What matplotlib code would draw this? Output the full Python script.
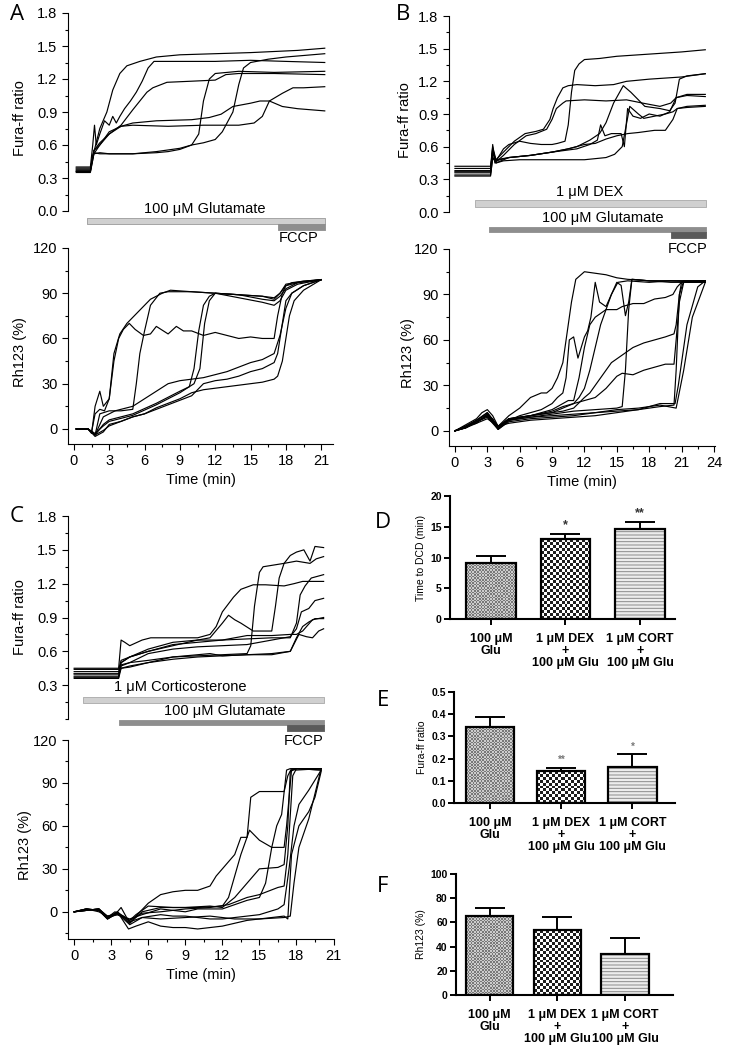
import numpy as np
import matplotlib
matplotlib.use('Agg')
import matplotlib.pyplot as plt
from matplotlib.colors import ListedColormap
from matplotlib.ticker import MultipleLocator

plt.rcParams['font.family'] = ['Liberation Sans', 'DejaVu Sans']
plt.rcParams['hatch.linewidth'] = 0.7

# ---------------- data: panel A (100 uM glutamate) ----------------
a_fura = [
    ([0.2, 1.4, 1.6, 1.8, 2.2, 2.8, 3.3, 3.9, 4.5, 5.6, 7, 9, 12, 15, 17, 19, 21.3],
     [0.36, 0.36, 0.5, 0.58, 0.75, 0.9, 1.1, 1.25, 1.32, 1.36, 1.40, 1.42, 1.43, 1.44, 1.45, 1.46, 1.48]),
    ([0.2, 1.4, 1.6, 1.75, 1.9, 2.2, 2.6, 3.0, 3.3, 3.6, 3.9, 4.3, 4.8, 5.3, 5.8, 6.3, 6.8, 9, 12, 15, 18, 21.3],
     [0.40, 0.40, 0.6, 0.78, 0.6, 0.7, 0.82, 0.78, 0.86, 0.80, 0.86, 0.93, 1.0, 1.08, 1.18, 1.3, 1.36, 1.36, 1.36, 1.37, 1.36, 1.35]),
    ([0.2, 1.4, 1.7, 2.2, 3, 4, 5, 5.6, 6.2, 6.7, 7.9, 10, 12, 12.9, 14, 17, 21.3],
     [0.38, 0.38, 0.55, 0.62, 0.7, 0.78, 0.92, 1.0, 1.08, 1.12, 1.17, 1.18, 1.19, 1.24, 1.25, 1.25, 1.24]),
    ([0.2, 1.4, 1.7, 2.2, 3, 4, 5, 7, 10, 11.5, 12.5, 13.5, 15, 15.8, 16.6, 17.7, 19, 21.3],
     [0.35, 0.35, 0.52, 0.6, 0.7, 0.77, 0.8, 0.82, 0.83, 0.85, 0.88, 0.95, 0.98, 1.0, 1.0, 0.95, 0.93, 0.91]),
    ([0.2, 1.4, 1.7, 2.2, 3, 4, 5, 8, 11, 14, 15.3, 16, 16.6, 17.7, 18.6, 19.5, 21.3],
     [0.37, 0.37, 0.55, 0.6, 0.72, 0.77, 0.78, 0.77, 0.78, 0.78, 0.8, 0.86, 1.0, 1.07, 1.12, 1.12, 1.13]),
    ([0.2, 1.4, 1.7, 2.2, 3, 5, 7, 8, 9, 10, 10.6, 11.0, 11.5, 12, 14, 17, 21.3],
     [0.36, 0.36, 0.52, 0.53, 0.52, 0.52, 0.53, 0.54, 0.56, 0.6, 0.7, 1.0, 1.2, 1.25, 1.27, 1.26, 1.27]),
    ([0.2, 1.4, 1.7, 2.2, 3, 5, 7, 9, 10, 11, 12, 12.6, 13, 13.5, 14.0, 14.4, 15, 16.5, 18, 21.3],
     [0.39, 0.39, 0.53, 0.52, 0.52, 0.52, 0.54, 0.57, 0.6, 0.62, 0.65, 0.72, 0.8, 0.9, 1.15, 1.3, 1.35, 1.38, 1.40, 1.43]),
]
a_rh = [
    ([0.2, 1.2, 1.5, 1.8, 2.2, 2.6, 3.0, 3.4, 3.8, 4.2, 4.7, 5.2, 5.9, 6.5, 7.0, 8, 8.7, 9.3, 10, 11, 12, 13, 14, 15, 16, 17.0, 17.3, 17.7, 18, 18.5, 19.5, 21],
     [0, 0, -2, 10, 13, 12, 20, 45, 60, 66, 70, 66, 62, 63, 68, 63, 68, 65, 65, 62, 64, 62, 60, 61, 60, 60, 75, 90, 95, 97, 98, 99]),
    ([0.2, 1.2, 1.5, 1.8, 2.2, 2.5, 3.0, 3.4, 3.9, 4.5, 5.5, 6.5, 7.5, 8.2, 10, 12, 14, 16, 17, 17.5, 18, 19, 21],
     [0, 0, -3, 15, 25, 15, 20, 50, 63, 70, 78, 86, 90, 92, 91, 90, 89, 88, 87, 90, 95, 97, 99]),
    ([0.2, 1.2, 1.8, 2.2, 3, 4, 5.0, 5.3, 5.6, 6.0, 6.5, 7.3, 8, 10, 12, 14, 16, 17, 17.5, 18, 19.5, 21],
     [0, 0, -4, 10, 12, 12, 13, 30, 50, 65, 82, 90, 91, 91, 90, 89, 88, 86, 90, 96, 98, 99]),
    ([0.2, 1.2, 1.8, 2.5, 3, 5, 7, 9, 9.8, 10.2, 10.6, 11.0, 11.5, 12, 14, 16, 17, 17.5, 18, 19, 21],
     [0, 0, -4, 3, 6, 10, 17, 25, 28, 40, 65, 82, 88, 90, 87, 84, 82, 85, 92, 96, 99]),
    ([0.2, 1.2, 1.8, 2.5, 3, 5, 7, 9, 10.2, 10.7, 11.1, 11.5, 12, 14, 16, 17, 17.5, 18, 19, 21],
     [0, 0, -3, 2, 5, 9, 16, 24, 30, 40, 70, 85, 90, 89, 86, 85, 88, 93, 97, 99]),
    ([0.2, 1.2, 1.8, 2.5, 3.5, 5, 6, 7, 8, 9, 10, 11, 12, 13, 14, 15, 16, 17, 17.5, 18, 18.5, 19.5, 21],
     [0, 0, -4, 8, 12, 15, 20, 25, 30, 32, 33, 34, 36, 38, 41, 44, 46, 50, 62, 80, 90, 95, 99]),
    ([0.2, 1.2, 1.8, 2.5, 3, 4, 5, 6, 7, 8, 9, 10, 11, 12, 13, 15, 16, 17, 17.3, 17.7, 18, 18.3, 18.7, 19.5, 21],
     [0, 0, -5, -2, 3, 5, 8, 10, 14, 17, 20, 24, 26, 27, 28, 30, 31, 33, 35, 45, 60, 75, 85, 92, 99]),
    ([0.2, 1.2, 1.8, 2.5, 3, 4, 5, 6, 8, 10, 11, 12, 13, 14, 15, 16, 17, 17.3, 17.7, 18, 18.5, 19.5, 21],
     [0, 0, -4, -1, 2, 5, 8, 10, 16, 22, 30, 32, 33, 35, 38, 40, 44, 50, 70, 85, 90, 95, 99]),
]
a_drugs = [('100 μM Glutamate', 1.1, 21.3), ('FCCP', 17.3, 21.3)]

# ---------------- data: panel B (DEX + glutamate) ----------------
b_fura = [
    ([0, 3.3, 3.5, 3.7, 4, 4.5, 5, 6, 7, 8, 9, 9.5, 10.2, 10.5, 10.8, 11.1, 11.5, 12, 13.4, 15, 18, 21, 23.2],
     [0.37, 0.37, 0.62, 0.45, 0.5, 0.58, 0.62, 0.65, 0.63, 0.62, 0.62, 0.63, 0.65, 0.8, 1.1, 1.3, 1.36, 1.40, 1.41, 1.43, 1.45, 1.47, 1.49]),
    ([0, 3.3, 3.5, 3.8, 4.5, 5.5, 6.5, 7.5, 8.2, 8.8, 9.1, 9.5, 10, 10.5, 11.3, 13, 14.7, 15.9, 18, 21, 23.2],
     [0.40, 0.40, 0.55, 0.48, 0.55, 0.65, 0.72, 0.74, 0.76, 0.85, 0.95, 1.05, 1.14, 1.16, 1.17, 1.16, 1.17, 1.20, 1.22, 1.24, 1.27]),
    ([0, 3.3, 3.5, 3.8, 4.5, 5.5, 6.6, 7.5, 8.5, 9.0, 9.4, 10.0, 10.3, 12, 14, 15.9, 17.4, 19, 20, 20.5, 21.5, 23.2],
     [0.34, 0.34, 0.5, 0.46, 0.52, 0.62, 0.7, 0.72, 0.76, 0.85, 0.95, 1.0, 1.02, 1.03, 1.02, 1.03, 1.0, 0.97, 1.0, 1.05, 1.07, 1.06]),
    ([0, 3.3, 3.5, 3.8, 5, 7, 9, 10.5, 11.3, 12.5, 13.4, 14, 14.7, 15.6, 16.3, 17.6, 19, 19.9, 20.4, 20.8, 21.5, 23.2],
     [0.36, 0.36, 0.55, 0.45, 0.5, 0.52, 0.55, 0.58, 0.6, 0.66, 0.72, 0.82, 1.0, 1.16, 1.1, 0.97, 0.95, 0.93, 1.0, 1.22, 1.25, 1.27]),
    ([0, 3.3, 3.5, 3.8, 5, 7, 9, 11.3, 12.5, 13.2, 13.5, 13.9, 14.5, 15.4, 15.7, 16.0, 16.5, 17.2, 18, 19, 19.9, 20.5, 21.5, 23.2],
     [0.38, 0.38, 0.58, 0.47, 0.5, 0.52, 0.55, 0.58, 0.62, 0.66, 0.8, 0.7, 0.72, 0.72, 0.6, 0.95, 0.88, 0.86, 0.9, 0.88, 0.92, 1.05, 1.08, 1.08]),
    ([0, 3.3, 3.5, 3.8, 4.5, 6, 9, 12, 14, 14.8, 15.5, 16.2, 17, 17.5, 18.5, 19.5, 20.2, 20.6, 21.5, 23.2],
     [0.33, 0.33, 0.5, 0.45, 0.47, 0.48, 0.48, 0.48, 0.5, 0.53, 0.6, 0.97, 0.9, 0.86, 0.88, 0.9, 0.92, 0.95, 0.96, 0.97]),
    ([0, 3.3, 3.5, 3.8, 5, 7, 9, 10.5, 12, 13, 14, 15, 16, 17, 18.5, 19.5, 20.2, 20.6, 21.5, 23.2],
     [0.42, 0.42, 0.6, 0.48, 0.5, 0.52, 0.55, 0.58, 0.62, 0.63, 0.67, 0.7, 0.72, 0.73, 0.75, 0.75, 0.85, 0.95, 0.97, 0.98]),
]
b_rh = [
    ([0, 1, 2, 2.5, 3, 3.5, 4, 5, 6, 7, 8, 8.5, 9, 9.5, 10, 10.4, 10.8, 11.2, 12, 13, 14, 15, 16, 18, 20, 23.2],
     [0, 4, 8, 12, 14, 10, 3, 10, 15, 22, 25, 25, 28, 35, 45, 65, 85, 100, 105, 104, 103, 101, 100, 99, 99, 99]),
    ([0, 1, 2, 3, 3.5, 4, 5, 6, 7, 8, 9, 9.5, 10, 10.3, 10.6, 11.0, 11.4, 12, 12.3, 12.6, 13.0, 13.4, 14, 14.5, 15.1, 16, 18, 20, 23.2],
     [0, 3, 6, 10, 8, 1, 7, 10, 12, 14, 18, 22, 25, 35, 60, 62, 48, 62, 66, 75, 98, 85, 82, 90, 98, 99, 98, 99, 99]),
    ([0, 1, 2, 3, 4, 5, 7, 9, 10, 11, 11.5, 12, 12.5, 13, 13.5, 14, 14.5, 15.0, 15.4, 15.8, 16.1, 16.4, 18, 20, 23.2],
     [0, 3, 7, 12, 3, 8, 10, 12, 15, 18, 22, 28, 40, 55, 70, 80, 90, 98, 96, 76, 85, 100, 99, 99, 98]),
    ([0, 1, 2, 3, 4, 5, 7, 9, 11, 13, 15, 15.5, 15.8, 16.1, 16.4, 18, 20, 23.2],
     [0, 2, 6, 10, 2, 7, 9, 11, 13, 14, 15, 16, 40, 80, 100, 99, 98, 98]),
    ([0, 1, 2, 3, 4, 5, 7, 9, 10, 10.5, 11, 11.5, 12, 12.5, 13, 14, 15, 15.5, 16.5, 17.5, 18.5, 19.5, 20.2, 20.6, 21, 23.2],
     [0, 3, 7, 11, 2, 8, 10, 14, 18, 20, 20, 35, 55, 70, 75, 80, 80, 82, 84, 84, 87, 88, 90, 95, 98, 99]),
    ([0, 1, 2, 3, 4, 5, 7, 9, 10, 11, 12, 12.5, 13.5, 14.5, 15.5, 16.5, 17.5, 18.5, 19.5, 20.3, 20.5, 20.8, 21, 23.2],
     [0, 2, 6, 10, 1, 7, 10, 12, 13, 15, 22, 25, 35, 45, 50, 55, 58, 60, 62, 64, 70, 90, 98, 99]),
    ([0, 1, 2, 3, 4, 5, 7, 9, 10, 11, 12, 13, 14, 15, 15.5, 16.5, 17.5, 18.5, 19.5, 20.3, 20.5, 20.8, 21.2, 23.2],
     [0, 3, 7, 12, 3, 8, 10, 13, 16, 18, 20, 22, 28, 36, 38, 37, 40, 42, 44, 44, 60, 85, 98, 98]),
    ([0, 1, 2, 3, 4, 5, 7, 9, 11, 13, 15, 17, 19, 20.3, 20.5, 20.8, 21.2, 23.2],
     [0, 2, 6, 9, 1, 6, 8, 9, 10, 12, 13, 14, 16, 17, 40, 90, 99, 99]),
    ([0, 1, 2, 3, 4, 5, 7, 9, 11, 13, 15, 17, 19, 20.5, 21.2, 22, 23.2],
     [0, 3, 5, 11, 2, 7, 9, 10, 11, 12, 14, 15, 17, 15, 40, 75, 98]),
    ([0, 1, 2, 3, 4, 5, 7, 9, 11, 13, 15, 17, 19, 20.4, 20.7, 21.5, 22.5, 23.2],
     [0, 2, 5, 8, 3, 5, 7, 8, 9, 10, 12, 14, 18, 18, 30, 70, 95, 99]),
]
b_drugs = [('1 μM DEX', 1.9, 23.3), ('100 μM Glutamate', 3.2, 23.3), ('FCCP', 20.0, 23.3)]

# ---------------- data: panel C (corticosterone + glutamate) ----------------
c_fura = [
    ([0, 3.6, 3.8, 4.1, 4.5, 5.5, 6.2, 8, 10, 11, 11.5, 12, 12.9, 13.5, 14.5, 15.5, 17, 17.8, 18.5, 19.5, 20.2],
     [0.45, 0.45, 0.7, 0.68, 0.65, 0.7, 0.72, 0.72, 0.72, 0.75, 0.82, 0.95, 1.08, 1.15, 1.19, 1.19, 1.18, 1.2, 1.22, 1.22, 1.22]),
    ([0, 3.6, 3.8, 4.5, 6, 8, 10, 11, 12, 12.5, 13, 13.5, 14.5, 16, 16.3, 16.6, 17, 17.5, 18, 18.6, 19.1, 19.5, 20.2],
     [0.4, 0.4, 0.5, 0.55, 0.6, 0.65, 0.7, 0.72, 0.85, 0.92, 0.88, 0.85, 0.78, 0.78, 1.0, 1.25, 1.38, 1.45, 1.48, 1.5, 1.4, 1.53, 1.52]),
    ([0, 3.6, 3.8, 4.5, 6, 8, 10, 12, 14, 14.3, 14.6, 15.0, 15.3, 17, 18, 19.1, 19.6, 20.2],
     [0.38, 0.38, 0.47, 0.5, 0.52, 0.55, 0.56, 0.57, 0.58, 0.65, 1.0, 1.3, 1.35, 1.38, 1.4, 1.38, 1.42, 1.44]),
    ([0, 3.6, 3.8, 4.5, 6, 8, 10, 12, 14, 16, 17.5, 18, 18.3, 18.7, 19.2, 20.2],
     [0.42, 0.42, 0.5, 0.55, 0.62, 0.68, 0.7, 0.7, 0.71, 0.72, 0.72, 0.85, 1.1, 1.18, 1.25, 1.28]),
    ([0, 3.6, 3.8, 4.5, 6, 8, 10, 12, 14, 16, 17.5, 18, 18.4, 19.0, 19.5, 20.2],
     [0.37, 0.37, 0.48, 0.5, 0.58, 0.62, 0.64, 0.65, 0.66, 0.7, 0.73, 0.8, 0.95, 0.98, 1.05, 1.07]),
    ([0, 3.6, 3.8, 4.5, 6, 8, 10, 12, 14, 16, 17.5, 18, 18.5, 19, 19.5, 20.2],
     [0.36, 0.36, 0.45, 0.46, 0.5, 0.53, 0.55, 0.56, 0.57, 0.58, 0.6, 0.72, 0.82, 0.86, 0.89, 0.89]),
    ([0, 3.6, 3.8, 4.5, 6, 8, 10, 11, 12, 14, 16, 17.5, 18.2, 18.8, 19.3, 19.8, 20.2],
     [0.4, 0.4, 0.45, 0.47, 0.5, 0.55, 0.57, 0.58, 0.56, 0.57, 0.57, 0.6, 0.75, 0.73, 0.72, 0.78, 0.8]),
    ([0, 3.6, 3.8, 4.5, 6, 8, 10, 12, 14, 16, 17.5, 18, 18.5, 19.3, 20.2],
     [0.44, 0.44, 0.52, 0.55, 0.6, 0.66, 0.68, 0.7, 0.74, 0.74, 0.75, 0.75, 0.78, 0.88, 0.9]),
]
c_rh = [
    ([0, 1, 2, 2.7, 3.3, 3.8, 4.5, 5, 6, 7, 8, 9, 10, 11, 11.5, 12, 13, 13.5, 14, 14.3, 15, 17, 17.3, 17.6, 18, 20],
     [0, 2, 1, -5, -2, 3, -8, -3, 6, 12, 14, 15, 15, 18, 25, 30, 40, 52, 52, 80, 84, 84, 95, 100, 100, 99]),
    ([0, 1, 2, 2.7, 3.3, 4, 4.5, 5, 6, 8, 10, 12, 12.5, 13, 13.5, 14.2, 15, 16, 17, 17.2, 17.6, 18, 20],
     [0, 1, 2, -4, 0, -3, -6, -2, 4, 3, 3, 4, 10, 25, 40, 57, 50, 45, 45, 60, 99, 100, 99]),
    ([0, 1, 2, 2.7, 3.5, 4.5, 5.5, 7, 9, 11, 12, 13, 14, 15, 16.5, 17, 17.3, 17.5, 18, 20],
     [0, 2, 1, -5, -1, -8, 0, 3, 3, 4, 3, 10, 20, 30, 31, 33, 60, 98, 100, 100]),
    ([0, 1, 2, 2.7, 3.5, 4.5, 5.5, 7, 9, 11, 12.5, 14, 15, 16.5, 17, 17.3, 17.7, 18, 20],
     [0, 1, 2, -4, -2, -6, -1, 0, 2, 3, 5, 10, 12, 17, 18, 40, 95, 100, 100]),
    ([0, 1, 2, 2.7, 3.5, 4.5, 5.5, 7, 9, 10, 12, 13, 14, 15, 15.5, 16, 16.4, 16.8, 17.2, 17.5, 18, 20],
     [0, 2, 0, -3, -2, -5, -2, 2, 0, 2, 2, 5, 8, 10, 20, 45, 60, 68, 99, 100, 99, 100]),
    ([0, 1, 2, 2.7, 3.5, 4.5, 5.5, 7, 8, 9, 10, 11, 12, 13, 14, 15, 16.5, 17, 17.4, 17.8, 18.2, 19, 20],
     [0, 1, 2, -4, 0, -7, -4, -2, -3, -3, -4, -5, -5, -4, -3, -2, 2, 5, 30, 60, 75, 85, 99]),
    ([0, 1, 2, 2.7, 3.5, 4.4, 5, 6, 7, 8, 9, 10, 11, 12, 13, 14, 15, 16, 17, 17.3, 17.6, 18.2, 19, 19.5, 20],
     [0, 2, 1, -5, 0, -12, -10, -7, -10, -11, -11, -12, -11, -10, -8, -6, -5, -4, -3, -5, 40, 60, 70, 80, 98]),
    ([0, 1, 2, 2.7, 3.5, 4.5, 5.5, 7, 9, 11, 13, 15, 17, 17.5, 17.8, 18.2, 19, 20],
     [0, 1, 2, -3, -1, -9, -4, -5, -4, -3, -5, -5, -4, -3, 20, 45, 65, 100]),
]
c_drugs = [('1 μM Corticosterone', 0.7, 20.2), ('100 μM Glutamate', 3.6, 20.2), ('FCCP', 17.2, 20.2)]

# ---------------- data: bar charts D, E, F ----------------
groups = ['100 μM\nGlu', '1 μM DEX\n+\n100 μM Glu', '1 μM CORT\n+\n100 μM Glu']
dcd_mean = [9.05, 12.95, 14.6]
dcd_sem = [1.2, 0.85, 1.1]
dcd_stars = ['', '*', '**']
fura_mean = [0.341, 0.144, 0.164]
fura_sem = [0.048, 0.015, 0.055]
fura_stars = ['', '**', '*']
rh_mean = [65.5, 53.7, 33.5]
rh_sem = [6.6, 10.5, 14.0]

W, H = 729, 1049
fig = plt.figure(figsize=(W / 100, H / 100), dpi=100)


def axes_px(l, t, r, b):
    ax = fig.add_axes([l / W, 1 - b / H, (r - l) / W, (b - t) / H])
    ax.set_facecolor('none')
    return ax


def trace_axes(ax, xlim, ylim, ystep, yticks, with_x):
    ax.set_xlim(*xlim)
    ax.set_ylim(*ylim)
    ax.spines[['top', 'right']].set_visible(False)
    ax.set_yticks(yticks)
    ax.yaxis.set_minor_locator(MultipleLocator(ystep / 2))
    ax.tick_params(axis='both', which='major', direction='out', length=4, width=0.8, labelsize=10.5)
    ax.tick_params(axis='both', which='minor', direction='out', length=2, width=0.8)
    if with_x:
        ax.set_xticks(np.arange(0, xlim[1] + 0.1, 3))
        ax.xaxis.set_minor_locator(MultipleLocator(1.5))
        ax.set_xlabel('Time (min)', fontsize=10.5, labelpad=3)
    else:
        ax.spines['bottom'].set_visible(False)
        ax.set_xticks([])
        ax.xaxis.set_minor_locator(plt.NullLocator())


def draw_traces(ax, traces):
    for t, v in traces:
        ax.plot(t, v, color='black', lw=0.85)


def drug_bar(ax, start, stop, y0, h, fc, ec):
    ax.broken_barh([(start, stop - start)], (y0, h), facecolors=fc, edgecolors=ec,
                   linewidth=0.6, clip_on=False)


LIGHT, MID, DARK = '#d0d0d0', '#8e8e8e', '#5a5a5a'
FURA_LABELS = ['0.0', '0.3', '0.6', '0.9', '1.2', '1.5', '1.8']

# ---------- A ----------
ax = axes_px(68, 13, 333, 211)
draw_traces(ax, a_fura)
trace_axes(ax, (-0.5, 22), (0, 1.8), 0.3, np.arange(0, 1.81, 0.3), False)
ax.set_yticklabels(FURA_LABELS)
ax.set_ylabel('Fura-ff ratio', fontsize=10.5)
ax.yaxis.set_label_coords(-0.155, 0.47)
(gl, g0, g1), (fl, f0, f1) = a_drugs
drug_bar(ax, g0, g1, -0.118, 0.054, LIGHT, '#9a9a9a')
drug_bar(ax, f0, f1, -0.173, 0.055, MID, MID)
ax.text(11.1, 0.02, gl, ha='center', va='center', fontsize=10.5)
ax.text(19.1, -0.245, fl, ha='center', va='center', fontsize=10.5)

ax = axes_px(68, 248, 333, 444)
draw_traces(ax, a_rh)
trace_axes(ax, (-0.5, 22), (-10, 120), 30, np.arange(0, 121, 30), True)
ax.set_ylabel('Rh123 (%)', fontsize=10.5)
ax.yaxis.set_label_coords(-0.155, 0.47)

# ---------- B ----------
ax = axes_px(449, 16, 715, 212)
draw_traces(ax, b_fura)
trace_axes(ax, (-0.55, 24.1), (0, 1.8), 0.3, np.arange(0, 1.81, 0.3), False)
ax.set_yticklabels(FURA_LABELS)
ax.set_ylabel('Fura-ff ratio', fontsize=10.5)
ax.yaxis.set_label_coords(-0.139, 0.47)
(dl, d0, d1), (gl, g0, g1), (fl, f0, f1) = b_drugs
drug_bar(ax, d0, d1, 0.046, 0.064, LIGHT, '#a8a8a8')
drug_bar(ax, g0, g1, -0.184, 0.046, MID, MID)
drug_bar(ax, f0, f1, -0.239, 0.055, DARK, DARK)
ax.text(12.5, 0.18, dl, ha='center', va='center', fontsize=10.5)
ax.text(13.7, -0.055, gl, ha='center', va='center', fontsize=10.5)
ax.text(21.6, -0.34, fl, ha='center', va='center', fontsize=10.5)

ax = axes_px(449, 249, 715, 446)
draw_traces(ax, b_rh)
trace_axes(ax, (-0.55, 24.1), (-10, 120), 30, np.arange(0, 121, 30), True)
ax.set_ylabel('Rh123 (%)', fontsize=10.5)
ax.yaxis.set_label_coords(-0.128, 0.47)

# ---------- C ----------
ax = axes_px(68, 516, 333.5, 719)
draw_traces(ax, c_fura)
trace_axes(ax, (-0.5, 21), (0, 1.8), 0.3, np.arange(0.3, 1.81, 0.3), False)
ax.set_ylabel('Fura-ff ratio', fontsize=10.5)
ax.yaxis.set_label_coords(-0.155, 0.5)
(cl, c0, c1), (gl, g0, g1), (fl, f0, f1) = c_drugs
drug_bar(ax, c0, c1, 0.142, 0.053, LIGHT, '#a8a8a8')
drug_bar(ax, g0, g1, -0.053, 0.044, MID, MID)
drug_bar(ax, f0, f1, -0.106, 0.053, DARK, DARK)
ax.text(8.6, 0.284, cl, ha='center', va='center', fontsize=10.5)
ax.text(12.2, 0.07, gl, ha='center', va='center', fontsize=10.5)
ax.text(18.6, -0.195, fl, ha='center', va='center', fontsize=10.5)

ax = axes_px(68, 740, 333.5, 939)
draw_traces(ax, c_rh)
trace_axes(ax, (-0.5, 21), (-19, 120), 30, np.arange(0, 121, 30), True)
ax.set_ylabel('Rh123 (%)', fontsize=10.5)
ax.yaxis.set_label_coords(-0.136, 0.47)


# ---------- bar charts ----------
def checker_fill(ax, bar, cell_px, colors):
    # checkerboard texture clipped to the bar
    bb = bar.get_window_extent()
    nx = max(1, int(round(bb.width / cell_px)))
    ny = max(1, int(round(bb.height / cell_px)))
    grid = np.indices((ny, nx)).sum(axis=0) % 2
    x0, y0 = bar.get_x(), bar.get_y()
    im = ax.imshow(grid, cmap=ListedColormap(colors), interpolation='nearest', aspect='auto',
                   extent=(x0, x0 + bar.get_width(), y0, y0 + bar.get_height()), zorder=2)
    im.set_clip_path(bar)


def bar_panel(ax, means, sems, ylim, ystep, ylabel, xlim, width, stars, star_kw):
    x = np.arange(len(means))
    ax.set_xlim(*xlim)
    ax.set_ylim(*ylim)
    ax.errorbar(x, means, yerr=[np.zeros(len(sems)), sems], fmt='none', ecolor='black',
                elinewidth=1.4, capsize=10.5, capthick=1.4, zorder=1)
    bars = ax.bar(x, means, width=width, color=['#a0a0a0', 'white', '#ececec'], linewidth=0, zorder=1.5)
    checker_fill(ax, bars[0], 1.6, ['#787878', '#cccccc'])
    checker_fill(ax, bars[1], 3.0, ['#1e1e1e', '#ffffff'])
    ax.bar(x[2], means[2], width=width, color='none', edgecolor='#8a8a8a', hatch='-----',
           linewidth=0, zorder=2)
    ax.bar(x, means, width=width, fill=False, edgecolor='black', linewidth=1.6, zorder=3)
    for xi, m, s, st in zip(x, means, sems, stars):
        if st:
            ax.text(xi, m + s + star_kw['gap'], st, ha='center', va='bottom',
                    fontsize=star_kw['size'], color=star_kw['color'], fontweight='bold')
    ax.set_xlim(*xlim)
    ax.set_ylim(*ylim)
    ax.set_yticks(np.arange(ylim[0], ylim[1] + ystep / 2, ystep))
    ax.set_xticks(x)
    ax.set_xticklabels(groups, fontsize=9, fontweight='bold', linespacing=1.0)
    ax.tick_params(axis='y', labelsize=7.5, length=4, width=1.4, pad=2)
    ax.tick_params(axis='x', length=4, width=1.4, pad=6)
    ax.spines[['top', 'right']].set_visible(False)
    ax.spines[['left', 'bottom']].set_linewidth(1.5)
    ax.set_ylabel(ylabel, fontsize=7.5, labelpad=3)


ax = axes_px(450, 496, 675, 619)
bar_panel(ax, dcd_mean, dcd_sem, (0, 20), 5, 'Time to DCD (min)', (-0.55, 2.47), 0.67,
          dcd_stars, dict(gap=0.5, size=9, color='#333333'))
ax.set_yticklabels(['0', '5', '10', '15', '20'], fontweight='bold')

ax = axes_px(454, 692, 675, 803)
bar_panel(ax, fura_mean, fura_sem, (0, 0.5), 0.1, 'Fura-ff ratio', (-0.51, 2.6), 0.68,
          fura_stars, dict(gap=0.012, size=7, color='#777777'))
ax.set_yticklabels(['0.0', '0.1', '0.2', '0.3', '0.4', '0.5'], fontweight='bold')

ax = axes_px(456, 874, 673, 995)
bar_panel(ax, rh_mean, rh_sem, (0, 100), 20, 'Rh123 (%)', (-0.5, 2.71), 0.7,
          ['', '', ''], dict(gap=1, size=7, color='#777777'))
ax.set_yticklabels(['0', '20', '40', '60', '80', '100'], fontweight='bold')

# panel letters
for letter, px, py in [('A', 17, 15), ('B', 403, 15), ('C', 17, 517),
                       ('D', 383, 523), ('E', 383, 700), ('F', 383, 887)]:
    fig.text(px / W, 1 - py / H, letter, ha='center', va='center', fontsize=16,
             family=['Open Sans', 'DejaVu Sans'])

fig.savefig('out.png', dpi=100)
